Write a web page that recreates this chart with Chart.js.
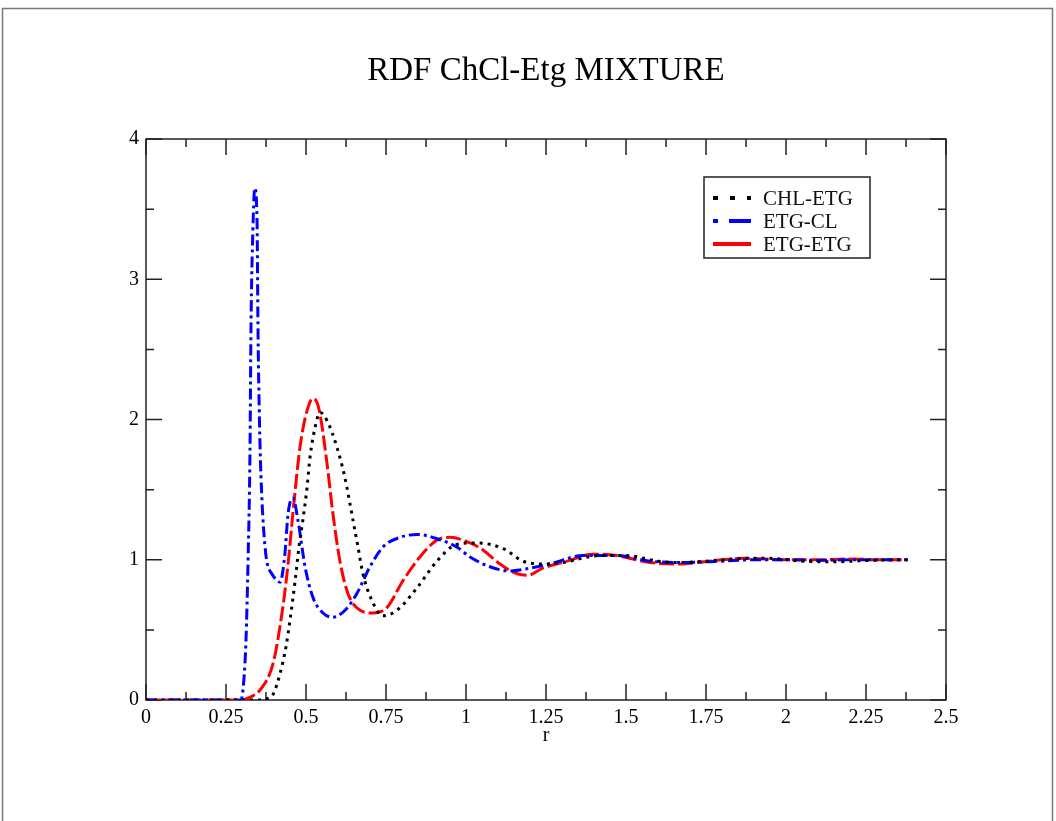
<!DOCTYPE html>
<html>
<head>
<meta charset="utf-8">
<title>RDF ChCl-Etg MIXTURE</title>
<script src="https://cdn.jsdelivr.net/npm/chart.js@4.4.1/dist/chart.umd.min.js"></script>
<style>
  html, body { margin: 0; padding: 0; background: #fff; }
  canvas { display: block; }
</style>
</head>
<body>
<canvas id="rdfChart" width="1056" height="821"></canvas>
<script>
// eixos
const xTickValues = [0, 0.25, 0.5, 0.75, 1, 1.25, 1.5, 1.75, 2, 2.25, 2.5];
const xTickLabels = ['0', '0.25', '0.5', '0.75', '1', '1.25', '1.5', '1.75', '2', '2.25', '2.5'];
const yTickValues = [0, 1, 2, 3, 4];
const yTickLabels = ['0', '1', '2', '3', '4'];

// CHL-ETG (pontilhado preto)
const chlEtgR = [0, 0.36, 0.38, 0.397, 0.419, 0.4375, 0.45, 0.466, 0.478, 0.49, 0.503, 0.5125, 0.528, 0.544,
  0.566, 0.597, 0.622, 0.647, 0.6625, 0.678, 0.706, 0.74, 0.784, 0.847, 0.909, 0.972, 1.034, 1.116, 1.178,
  1.24, 1.3, 1.42, 1.5, 1.6, 1.66, 1.75, 1.88, 1.95, 2.05, 2.15, 2.25, 2.38];
const chlEtgG = [0, 0, 0.01, 0.04, 0.19, 0.38, 0.57, 0.85, 1.09, 1.28, 1.51, 1.73, 1.94, 2.05,
  1.99, 1.80, 1.58, 1.28, 1.09, 0.90, 0.71, 0.60, 0.64, 0.80, 0.99, 1.11, 1.12, 1.08, 0.99,
  0.97, 0.98, 1.03, 1.03, 0.99, 0.98, 0.99, 1.01, 1.01, 0.99, 0.985, 0.995, 1.0];

// ETG-CL (traco-ponto azul)
const etgClR = [0, 0.297, 0.306, 0.3125, 0.319, 0.325, 0.328, 0.334, 0.34, 0.347, 0.35, 0.356, 0.3625, 0.372,
  0.381, 0.3875, 0.419, 0.434, 0.444, 0.459, 0.475, 0.497, 0.522, 0.553, 0.584, 0.622, 0.659, 0.7, 0.74,
  0.794, 0.85, 0.909, 0.972, 1.0125, 1.075, 1.1375, 1.2, 1.2625, 1.366, 1.47, 1.575, 1.67, 1.8, 1.9, 2.0,
  2.1, 2.2, 2.3, 2.38];
const etgClG = [0, 0, 0.15, 0.43, 1.0, 1.78, 2.64, 3.35, 3.65, 3.42, 2.64, 1.85, 1.42, 1.09,
  0.95, 0.92, 0.84, 1.04, 1.33, 1.44, 1.28, 0.95, 0.73, 0.62, 0.59, 0.64, 0.76, 0.95, 1.09,
  1.16, 1.18, 1.15, 1.09, 1.02, 0.95, 0.92, 0.94, 0.97, 1.03, 1.03, 0.99, 0.98, 0.99, 1.0, 1.0,
  0.995, 1.0, 1.0, 1.0];

// ETG-ETG (tracejado vermelho)
const etgEtgR = [0, 0.303, 0.325, 0.356, 0.397, 0.425, 0.444, 0.459, 0.481, 0.503, 0.522, 0.54, 0.566, 0.584,
  0.606, 0.631, 0.669, 0.709, 0.753, 0.803, 0.856, 0.909, 0.95, 1.0125, 1.053, 1.106, 1.16, 1.194, 1.24,
  1.316, 1.397, 1.47, 1.575, 1.67, 1.76, 1.866, 2.0, 2.1, 2.2, 2.3, 2.38];
const etgEtgG = [0, 0, 0.02, 0.07, 0.26, 0.62, 0.97, 1.33, 1.80, 2.06, 2.15, 2.08, 1.68, 1.33,
  0.99, 0.76, 0.64, 0.62, 0.66, 0.85, 1.02, 1.14, 1.16, 1.12, 1.07, 0.97, 0.90, 0.89, 0.94,
  0.99, 1.04, 1.03, 0.98, 0.97, 0.99, 1.01, 1.0, 1.0, 1.005, 1.0, 1.0];

const serif = "'Liberation Serif', 'DejaVu Serif', serif";

function pontos(rs, gs) {
  return rs.map((r, i) => ({ x: r, y: gs[i] }));
}

// moldura, ticks para dentro, legenda e borda da pagina
const molduraPlugin = {
  id: 'moldura',
  beforeDraw(chart) {
    const ctx = chart.ctx;
    ctx.save();
    ctx.strokeStyle = '#7a7a7a';
    ctx.lineWidth = 1.5;
    ctx.beginPath();
    ctx.moveTo(2.5, 821);
    ctx.lineTo(2.5, 8.5);
    ctx.lineTo(1052.5, 8.5);
    ctx.lineTo(1052.5, 821);
    ctx.stroke();
    ctx.restore();
  },
  beforeDatasetsDraw(chart) {
    const { ctx, chartArea: a, scales: { x, y } } = chart;
    ctx.save();
    ctx.strokeStyle = '#222';
    ctx.lineWidth = 1.5;
    ctx.strokeRect(a.left, a.top, a.right - a.left, a.bottom - a.top);
    ctx.beginPath();
    xTickValues.forEach((v, i) => {
      const px = x.getPixelForValue(v);
      ctx.moveTo(px, a.bottom); ctx.lineTo(px, a.bottom - 16);
      ctx.moveTo(px, a.top); ctx.lineTo(px, a.top + 16);
      if (i < xTickValues.length - 1) {
        const pm = x.getPixelForValue((v + xTickValues[i + 1]) / 2);
        ctx.moveTo(pm, a.bottom); ctx.lineTo(pm, a.bottom - 8);
        ctx.moveTo(pm, a.top); ctx.lineTo(pm, a.top + 8);
      }
    });
    yTickValues.forEach((v, i) => {
      const py = y.getPixelForValue(v);
      ctx.moveTo(a.left, py); ctx.lineTo(a.left + 16, py);
      ctx.moveTo(a.right, py); ctx.lineTo(a.right - 16, py);
      if (i < yTickValues.length - 1) {
        const pm = y.getPixelForValue((v + yTickValues[i + 1]) / 2);
        ctx.moveTo(a.left, pm); ctx.lineTo(a.left + 8, pm);
        ctx.moveTo(a.right, pm); ctx.lineTo(a.right - 8, pm);
      }
    });
    ctx.stroke();
    ctx.restore();
  },
  afterDraw(chart) {
    const ctx = chart.ctx;
    const bx = 704, by = 177, bw = 166, bh = 81;
    ctx.save();
    ctx.fillStyle = '#fff';
    ctx.fillRect(bx, by, bw, bh);
    ctx.strokeStyle = '#222';
    ctx.lineWidth = 1.5;
    ctx.strokeRect(bx, by, bw, bh);
    const amostras = [[5, 12], [5, 11, 22, 0], []];
    chart.data.datasets.forEach((ds, i) => {
      const yy = by + 21 + i * 23;
      ctx.strokeStyle = ds.borderColor;
      ctx.lineWidth = 4;
      ctx.setLineDash(amostras[i]);
      ctx.beginPath();
      ctx.moveTo(713, yy);
      ctx.lineTo(751, yy);
      ctx.stroke();
      ctx.setLineDash([]);
      ctx.fillStyle = '#111';
      ctx.font = '21px ' + serif;
      ctx.textBaseline = 'middle';
      ctx.textAlign = 'left';
      ctx.fillText(ds.label, 763, yy + 1);
    });
    ctx.restore();
  }
};

const configRdf = {
  type: 'line',
  data: {
    datasets: [{
      label: 'CHL-ETG',
      data: pontos(chlEtgR, chlEtgG),
      borderColor: '#000',
      borderWidth: 3,
      borderDash: [3, 5],
      pointRadius: 0,
      cubicInterpolationMode: 'monotone',
      fill: false
    }, {
      label: 'ETG-CL',
      data: pontos(etgClR, etgClG),
      borderColor: '#0000ff',
      borderWidth: 3,
      borderDash: [11, 4, 3, 4],
      pointRadius: 0,
      cubicInterpolationMode: 'monotone',
      fill: false
    }, {
      label: 'ETG-ETG',
      data: pontos(etgEtgR, etgEtgG),
      borderColor: '#ff0000',
      borderWidth: 3,
      borderDash: [15, 4],
      pointRadius: 0,
      cubicInterpolationMode: 'monotone',
      fill: false
    }]
  },
  options: {
    responsive: false,
    animation: false,
    devicePixelRatio: 1,
    layout: { padding: { left: 0, right: 110, top: 0, bottom: 0 } },
    scales: {
      x: {
        type: 'linear',
        min: 0,
        max: 2.5,
        afterBuildTicks: s => { s.ticks = xTickValues.map(v => ({ value: v })); },
        afterFit: s => { s.height = 121; },
        grid: { display: false, drawTicks: false },
        border: { display: false },
        ticks: {
          autoSkip: false,
          maxRotation: 0,
          padding: 6,
          color: '#000',
          font: { family: serif, size: 20 },
          callback: v => xTickLabels[xTickValues.indexOf(v)]
        },
        title: {
          display: true,
          text: 'r',
          color: '#000',
          font: { family: serif, size: 20 },
          padding: { top: 0, bottom: 73 }
        }
      },
      y: {
        type: 'linear',
        min: 0,
        max: 4,
        afterBuildTicks: s => { s.ticks = yTickValues.map(v => ({ value: v })); },
        afterFit: s => { s.width = 146; },
        grid: { display: false, drawTicks: false },
        border: { display: false },
        ticks: {
          padding: 7,
          color: '#000',
          font: { family: serif, size: 20 },
          callback: v => yTickLabels[yTickValues.indexOf(v)]
        }
      }
    },
    plugins: {
      legend: { display: false },
      tooltip: { enabled: false },
      title: {
        display: true,
        fullSize: false,
        text: 'RDF ChCl-Etg MIXTURE',
        color: '#000',
        font: { family: serif, size: 33, weight: 'normal' },
        padding: { top: 52, bottom: 47.4 }
      }
    }
  },
  plugins: [molduraPlugin]
};

const ctxRdf = document.getElementById('rdfChart').getContext('2d');
new Chart(ctxRdf, configRdf);
</script>
</body>
</html>
